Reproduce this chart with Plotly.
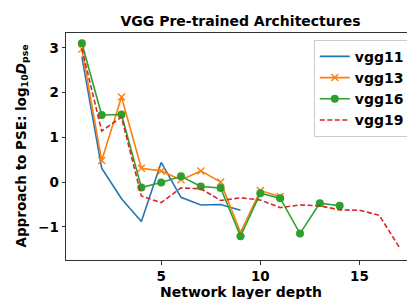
import plotly.graph_objects as go

x11 = list(range(1, 10))
vgg11 = [2.80, 0.31, -0.37, -0.88, 0.44, -0.34, -0.51, -0.50, -0.63]
x13 = list(range(1, 12))
vgg13 = [2.97, 0.48, 1.90, 0.31, 0.25, 0.05, 0.25, 0.00, -1.12, -0.19, -0.32]
x16 = list(range(1, 15))
vgg16 = [3.10, 1.50, 1.51, -0.12, -0.01, 0.13, -0.10, -0.13, -1.21, -0.25, -0.36, -1.15, -0.47, -0.53]
x19 = list(range(1, 18))
vgg19 = [2.98, 1.14, 1.45, -0.31, -0.46, -0.13, -0.15, -0.41, -0.35, -0.40, -0.57, -0.51, -0.53, -0.62, -0.63, -0.74, -1.45]

x_ticks = [5, 10, 15]
y_ticks = [-1, 0, 1, 2, 3]

font = "DejaVu Sans"

fig = go.Figure()
fig.add_trace(go.Scatter(x=x11, y=vgg11, mode="lines", name="<b>vgg11</b>",
                         line=dict(color="#1f77b4", width=1.6)))
fig.add_trace(go.Scatter(x=x13, y=vgg13, mode="lines+markers", name="<b>vgg13</b>",
                         line=dict(color="#ff7f0e", width=1.6),
                         marker=dict(symbol="x-thin", size=7, color="#ff7f0e",
                                     line=dict(color="#ff7f0e", width=1.4))))
fig.add_trace(go.Scatter(x=x16, y=vgg16, mode="lines+markers", name="<b>vgg16</b>",
                         line=dict(color="#2ca02c", width=1.6),
                         marker=dict(symbol="circle", size=8, color="#2ca02c")))
fig.add_trace(go.Scatter(x=x19, y=vgg19, mode="lines", name="<b>vgg19</b>",
                         line=dict(color="#d62728", width=1.6, dash="5px,2.5px")))

fig.update_layout(
    width=415, height=299,
    margin=dict(l=58, r=8, t=25, b=47),
    paper_bgcolor="white", plot_bgcolor="white",
    font=dict(family=font, color="black", size=12),
    title=dict(text="<b>VGG Pre-trained Architectures</b>", xref="paper", x=0.5,
               xanchor="center", yref="container", y=0.955, yanchor="middle",
               font=dict(size=14, family=font)),
    legend=dict(x=0.985, y=0.97, xanchor="right", yanchor="top",
                bgcolor="white", bordercolor="#cccccc", borderwidth=1,
                font=dict(size=14, family=font), tracegroupgap=0,
                itemwidth=30),
    showlegend=True,
    annotations=[
        dict(text="<b>Network layer depth</b>", xref="paper", yref="paper",
             x=0.5, y=0, xanchor="center", yanchor="middle", yshift=-32,
             showarrow=False, font=dict(size=14, family=font)),
        dict(text="<b>Approach to PSE: log<sub>10</sub><i>D</i><sub>pse</sub></b>",
             xref="paper", yref="paper", x=0, y=0.5, xanchor="center",
             yanchor="middle", xshift=-45, textangle=-90,
             showarrow=False, font=dict(size=13.5, family=font)),
    ],
)
fig.update_xaxes(range=[0.2, 17.8], tickvals=x_ticks,
                 ticktext=[f"<b>{t}</b>" for t in x_ticks],
                 showgrid=False, zeroline=False, showline=True, mirror=True,
                 linecolor="#333333", linewidth=1, ticks="outside", ticklen=3.5,
                 tickcolor="#333333", tickfont=dict(size=13.5), automargin=False)
fig.update_yaxes(range=[-1.74, 3.33], tickvals=y_ticks,
                 ticktext=[f"<b>{'−1' if t == -1 else t}</b>" for t in y_ticks],
                 showgrid=False, zeroline=False, showline=True, mirror=True,
                 linecolor="#333333", linewidth=1, ticks="outside", ticklen=3.5,
                 tickcolor="#333333", tickfont=dict(size=13.5), automargin=False)

fig.write_html("out.html")
